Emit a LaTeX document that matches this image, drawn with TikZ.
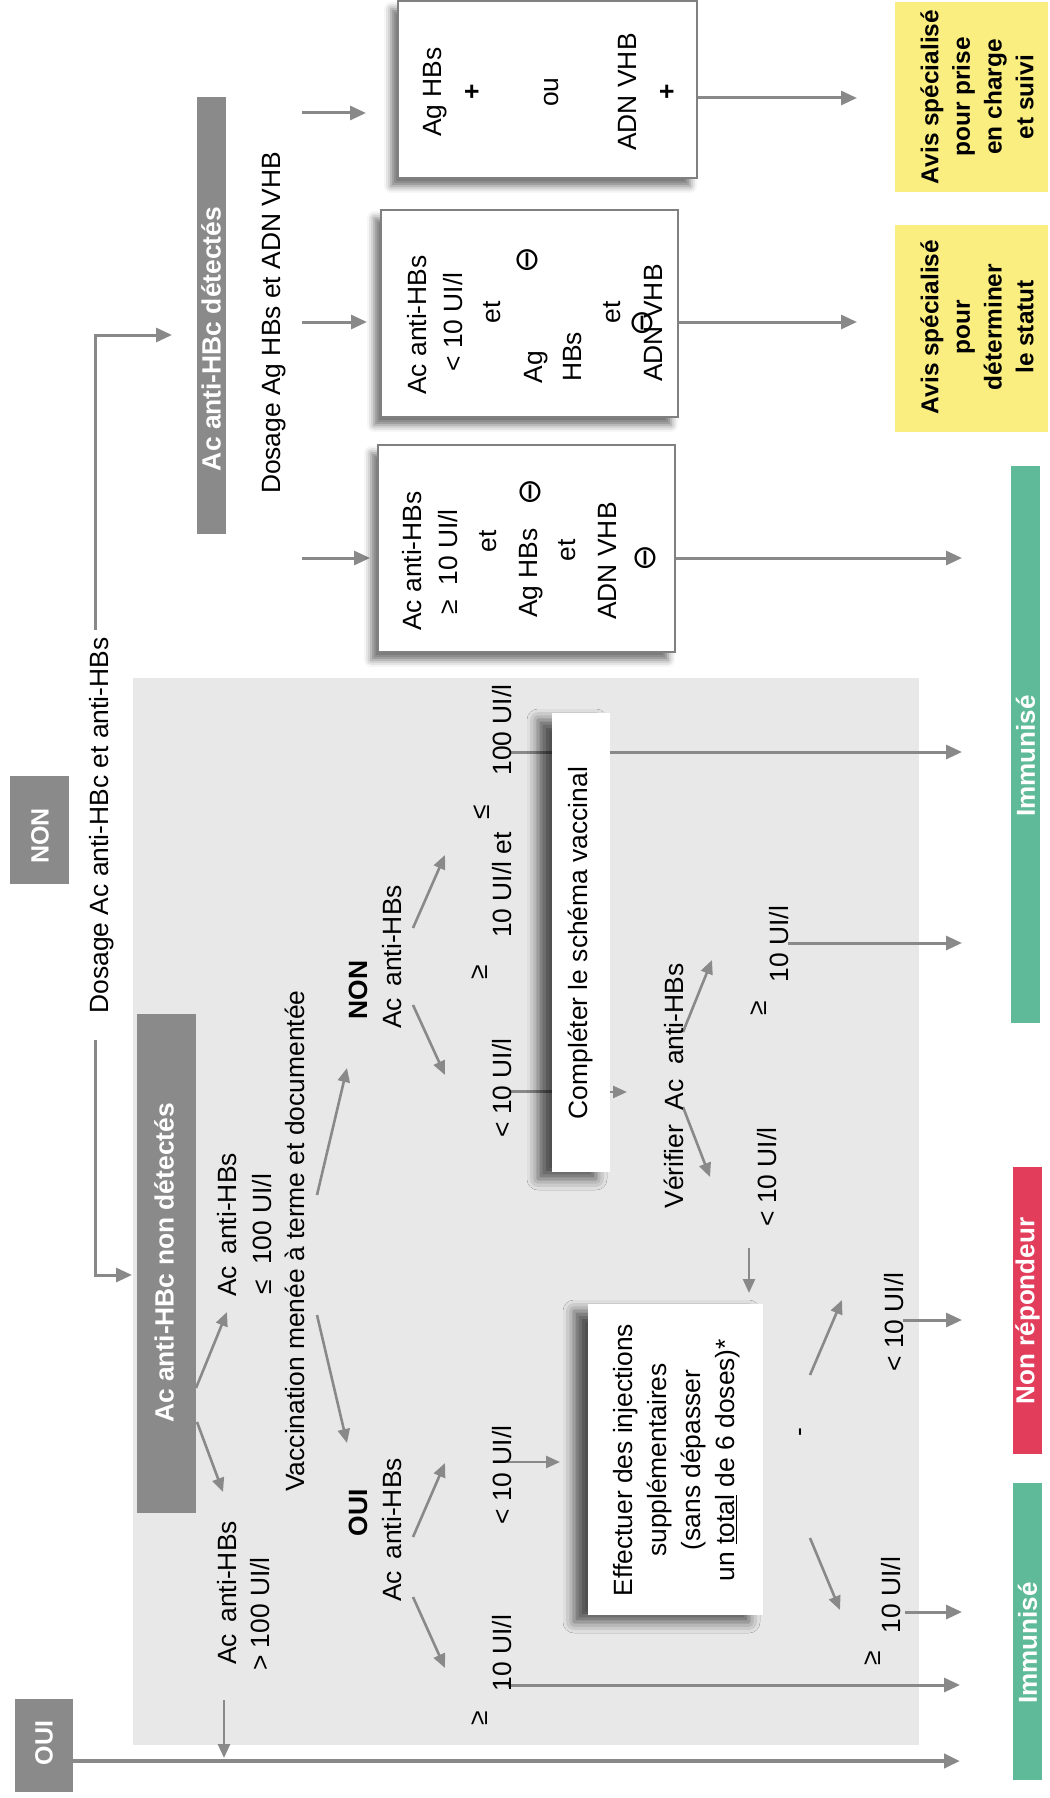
\documentclass[tikz,border=0pt]{standalone}
\usepackage{fontspec}
\setmainfont{Liberation Sans}
\newfontfamily\symf{DejaVu Sans}
\usetikzlibrary{arrows.meta,shadows.blur,fit}
\definecolor{conn}{RGB}{137,137,137}
\definecolor{tag}{RGB}{138,138,138}
\definecolor{panelgray}{RGB}{232,232,232}
\definecolor{immun}{RGB}{94,186,152}
\definecolor{nonrep}{RGB}{227,61,92}
\definecolor{avis}{RGB}{250,238,128}
\definecolor{frame}{RGB}{128,128,128}
\newcommand{\cminus}{{\symf\fontsize{32}{32}\selectfont ⊖}}
\tikzset{
  txt/.style={rotate=90, inner sep=0pt, outer sep=0pt, align=center,
    font=\fontsize{26.4}{39}\selectfont},
  btxt/.style={txt, font=\bfseries\fontsize{26.4}{39}\selectfont},
  wtxt/.style={btxt, text=white},
  avistxt/.style={txt, font=\bfseries\fontsize{24.4}{31.7}\selectfont},
  area/.style={inner sep=0pt, outer sep=0pt},
  wire/.style={draw=conn, line width=3pt},
  arr/.style={wire, -{Triangle[length=16pt,width=14pt]}},
  sarr/.style={wire, line width=2.6pt, -{Triangle[length=14pt,width=12pt]}},
  resbox/.style={area, fill=white, draw=frame, line width=1.5pt,
    blur shadow={shadow xshift=-7pt, shadow yshift=-8pt, shadow blur radius=7pt, shadow opacity=55}},
  actbox/.style={area, fill=white,
    blur shadow={shadow xshift=-14pt, shadow yshift=-7pt, shadow blur radius=11pt, shadow opacity=65}},
}
\begin{document}
\begin{tikzpicture}[x=1pt,y=-1pt]
\useasboundingbox (0,0) rectangle (1049,1798);
% ---------- background panel ----------
\node[area, fill=panelgray, fit={(133,678) (919,1745)}] (panel) {};

% ---------- connector end points ----------
\coordinate (dAs) at (95,630);   \coordinate (dAe) at (172,335);
\coordinate (dBs) at (95,1040);  \coordinate (dBe) at (132,1275);
\coordinate (g1s) at (302,113);  \coordinate (g1e) at (366,113);
\coordinate (g2s) at (302,322);  \coordinate (g2e) at (367,322);
\coordinate (g3s) at (302,558);  \coordinate (g3e) at (370,558);
\coordinate (y1s) at (697,98);   \coordinate (y1e) at (857,98);
\coordinate (y2s) at (678,322);  \coordinate (y2e) at (857,322);
\coordinate (i1s) at (675,558);  \coordinate (i1e) at (962,558);
\coordinate (hs) at (224,1700);  \coordinate (he) at (224,1758);
\coordinate (os) at (73,1761);   \coordinate (oe) at (960,1761);
\coordinate (nd1s) at (196,1388); \coordinate (nd1e) at (227,1312);
\coordinate (nd2s) at (197,1422); \coordinate (nd2e) at (223,1492);
\coordinate (v1s) at (317,1195); \coordinate (v1e) at (347,1068);
\coordinate (v2s) at (317,1315); \coordinate (v2e) at (347,1443);
\coordinate (n1s) at (413,928);  \coordinate (n1e) at (445,855);
\coordinate (n2s) at (413,1005); \coordinate (n2e) at (445,1075);
\coordinate (o1s) at (413,1537); \coordinate (o1e) at (445,1463);
\coordinate (o2s) at (413,1597); \coordinate (o2e) at (445,1668);
\coordinate (r1s) at (683,1032); \coordinate (r1e) at (712,960);
\coordinate (r2s) at (683,1107); \coordinate (r2e) at (710,1177);
\coordinate (e1s) at (810,1375); \coordinate (e1e) at (842,1300);
\coordinate (e2s) at (810,1538); \coordinate (e2e) at (840,1610);
\coordinate (h1s) at (510,752);  \coordinate (h1e) at (962,752);
\coordinate (h2s) at (510,1091); \coordinate (h2e) at (552,1091);
\coordinate (h3s) at (610,1092); \coordinate (h3e) at (627,1092);
\coordinate (h4s) at (788,943);  \coordinate (h4e) at (962,943);
\coordinate (h5s) at (749,1248); \coordinate (h5e) at (749,1293);
\coordinate (h6s) at (507,1462); \coordinate (h6e) at (560,1462);
\coordinate (h7s) at (508,1685); \coordinate (h7e) at (960,1685);
\coordinate (h8s) at (903,1320); \coordinate (h8e) at (962,1320);
\coordinate (h9s) at (905,1612); \coordinate (h9e) at (962,1612);

% ---------- connectors (under the boxes) ----------
\draw[arr] (dAs) |- (dAe);
\draw[arr] (dBs) |- (dBe);
\draw[arr] (g1s) -- (g1e);
\draw[arr] (g2s) -- (g2e);
\draw[arr] (g3s) -- (g3e);
\draw[arr] (y1s) -- (y1e);
\draw[arr] (y2s) -- (y2e);
\draw[arr] (i1s) -- (i1e);
\draw[sarr] (hs) -- (he);
\draw[arr, line width=4.5pt] (os) -- (oe);
\draw[sarr] (nd1s) -- (nd1e);
\draw[sarr] (nd2s) -- (nd2e);
\draw[sarr] (v1s) -- (v1e);
\draw[sarr] (v2s) -- (v2e);
\draw[sarr] (n1s) -- (n1e);
\draw[sarr] (n2s) -- (n2e);
\draw[sarr] (o1s) -- (o1e);
\draw[sarr] (o2s) -- (o2e);
\draw[sarr] (r1s) -- (r1e);
\draw[sarr] (r2s) -- (r2e);
\draw[sarr] (e1s) -- (e1e);
\draw[sarr] (e2s) -- (e2e);
\draw[arr] (h1s) -- (h1e);
\draw[wire] (h2s) -- (h2e);
\draw[sarr] (h3s) -- (h3e);
\draw[arr] (h4s) -- (h4e);
\draw[sarr] (h5s) -- (h5e);
\draw[sarr] (h6s) -- (h6e);
\draw[arr] (h7s) -- (h7e);
\draw[arr] (h8s) -- (h8e);
\draw[arr] (h9s) -- (h9e);

% ---------- boxes ----------
\node[area, fill=tag, fit={(15,1699) (73,1792)}] (ouibox) {};
\node[area, fill=tag, fit={(10,776) (69,884)}] (nonbox) {};
\node[area, fill=tag, fit={(197,97) (226,534)}] (detbox) {};
\node[area, fill=tag, fit={(137,1014) (196,1513)}] (ndetbox) {};
\node[resbox, fit={(398,1) (697,178)}] (box1) {};
\node[resbox, fit={(381,210) (678,417)}] (box2) {};
\node[resbox, fit={(378,445) (675,652)}] (box3) {};
\node[area, fill=avis, fit={(895,2) (1048,192)}] (avis1) {};
\node[area, fill=avis, fit={(895,225) (1048,432)}] (avis2) {};
\node[area, fill=immun, fit={(1011,466) (1040,1023)}] (imm1) {};
\node[area, fill=nonrep, fit={(1013,1167) (1042,1454)}] (nonrep) {};
\node[area, fill=immun, fit={(1013,1483) (1042,1780)}] (imm2) {};
\node[actbox, fit={(552,713) (610,1172)}] (compl) {};
\node[actbox, fit={(588,1304) (763,1615)}] (effect) {};

% ---------- labels on dark boxes and bars ----------
\node[wtxt, font=\bfseries\fontsize{25}{30}\selectfont] (ouit) at (44,1743) {OUI};
\node[wtxt, font=\bfseries\fontsize{25}{30}\selectfont] (nont) at (40,836) {NON};
\node[wtxt] (dett) at (211,339) {Ac anti-HBc détectés};
\node[wtxt] (ndett) at (164,1263) {Ac anti-HBc non détectés};
\node[wtxt, font=\bfseries\fontsize{26}{30}\selectfont] (imm1t) at (1025.5,756) {Immunisé};
\node[wtxt, font=\bfseries\fontsize{26}{30}\selectfont] (nonrept) at (1027.5,1311) {Non répondeur};
\node[wtxt, font=\bfseries\fontsize{26}{30}\selectfont] (imm2t) at (1027.5,1643) {Immunisé};
\node[avistxt] (avis1t) at (977,97) {Avis spécialisé\\pour prise\\en charge\\et suivi};
\node[avistxt] (avis2t) at (977,327) {Avis spécialisé\\pour\\déterminer\\le statut};

% ---------- top texts ----------
\node[txt] (dos1) at (102,825.5) {Dosage Ac anti-HBc et anti-HBs};
\node[txt] (dos2) at (274,323) {Dosage Ag HBs et ADN VHB};

% box 1
\node[txt] (b1t) at (549.5,92) {Ag HBs\\\textbf{+}\\[39pt]ou\\[39pt]ADN VHB\\\textbf{+}};
% box 2
\node[txt] (b2a) at (417,325) {Ac anti-HBs};
\node[txt] (b2b) at (453,322) {< 10 UI/l};
\node[txt] (b2c) at (492,312) {et};
\node[txt] (b2m1) at (527,260) {\cminus};
\node[txt] (b2d) at (536,367) {Ag};
\node[txt] (b2e) at (573,357) {HBs};
\node[txt] (b2f) at (612,312) {et};
\node[txt] (b2g) at (653,323) {ADN VHB};
\node[txt] (b2m2) at (642,323) {\cminus};
% box 3
\node[txt] (b3a) at (412,561) {Ac anti-HBs};
\node[txt] (b3b) at (448,562) {≥~~10 UI/l};
\node[txt] (b3c) at (488,541) {et};
\node[txt] (b3d) at (531,573) {Ag HBs};
\node[txt] (b3m1) at (530,492) {\cminus};
\node[txt] (b3e) at (567,550) {et};
\node[txt] (b3f) at (607,561) {ADN VHB};
\node[txt] (b3m2) at (645,558) {\cminus};

% ---------- panel texts ----------
\node[txt] (p1a) at (227,1225) {Ac \,anti-HBs};
\node[txt] (p1b) at (262,1234) {≤~~100 UI/l};
\node[txt] (p2a) at (227,1593) {Ac \,anti-HBs};
\node[txt] (p2b) at (260,1614) {> 100 UI/l};
\node[txt] (vacc) at (295,1241) {Vaccination menée à terme et documentée};
\node[btxt] (nonl) at (358,990) {NON};
\node[txt] (nonac) at (392,957) {Ac \,anti-HBs};
\node[btxt] (ouil) at (358,1513) {OUI};
\node[txt] (ouiac) at (392,1530) {Ac \,anti-HBs};
\node[txt] (ge1) at (480,972) {≥};
\node[txt] (n10et) at (502,885) {10 UI/l et};
\node[txt] (le1) at (482,812) {≤};
\node[txt] (n100) at (502,730) {100 UI/l};
\node[txt] (nlt) at (502,1088) {< 10 UI/l};
\node[txt] (complt) at (581,943) {Compléter le schéma vaccinal};
\node[txt] (verif) at (674,1086) {Vérifier~~Ac~~anti-HBs};
\node[txt] (ge2) at (759,1008) {≥};
\node[txt] (v10) at (779,944) {10 UI/l};
\node[txt] (vlt) at (767,1177) {< 10 UI/l};
\node[txt, font=\fontsize{26.4}{34}\selectfont] (efft) at (677,1460)
  {Effectuer des injections\\supplémentaires\\(sans dépasser\\un \underline{total} de 6 doses)*};
\node[txt] (olt) at (502,1475) {< 10 UI/l};
\node[txt] (ge3) at (480,1718) {≥};
\node[txt] (o10) at (502,1653) {10 UI/l};
\node[txt] (dash) at (803,1432) {-};
\node[txt] (elt) at (894,1322) {< 10 UI/l};
\node[txt] (ge4) at (873,1658) {≥};
\node[txt] (e10) at (891,1595) {10 UI/l};
\end{tikzpicture}
\end{document}
